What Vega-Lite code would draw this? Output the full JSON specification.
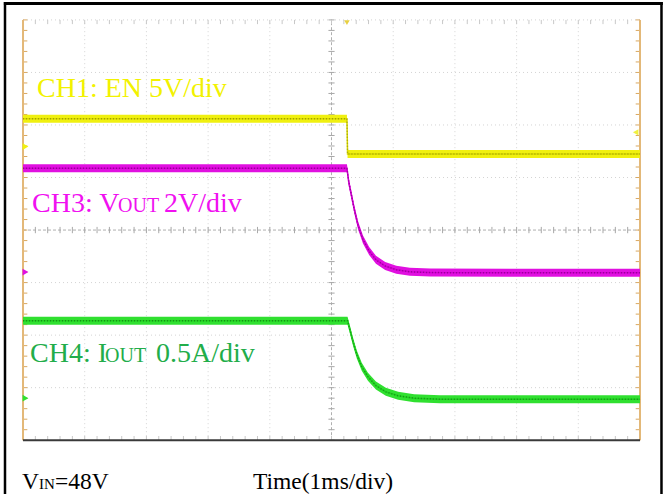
{
  "$schema": "https://vega.github.io/schema/vega-lite/v6.json",
  "width": 665,
  "height": 496,
  "autosize": {"type": "fit", "contains": "padding"},
  "padding": 0,
  "background": "white",
  "config": {"view": {"stroke": null}},
  "datasets": {
    "xt": [-5,-4.8,-4.6,-4.4,-4.2,-4,-3.8,-3.6,-3.4,-3.2,-3,-2.8,-2.6,-2.4,-2.2,-2,-1.8,-1.6,-1.4,-1.2,-1,-0.8,-0.6,-0.4,-0.2,0,0.2,0.4,0.6,0.8,1,1.2,1.4,1.6,1.8,2,2.2,2.4,2.6,2.8,3,3.2,3.4,3.6,3.8,4,4.2,4.4,4.6,4.8,5],
    "yt": [-4,-3.8,-3.6,-3.4,-3.2,-3,-2.8,-2.6,-2.4,-2.2,-2,-1.8,-1.6,-1.4,-1.2,-1,-0.8,-0.6,-0.4,-0.2,0,0.2,0.4,0.6,0.8,1,1.2,1.4,1.6,1.8,2,2.2,2.4,2.6,2.8,3,3.2,3.4,3.6,3.8,4],
    "tr": [
      {"ch":"CH1","t":-5,"v":2.12},{"ch":"CH1","t":0.25,"v":2.12},{"ch":"CH1","t":0.26,"v":1.45},{"ch":"CH1","t":5,"v":1.45},
      {"ch":"CH3","t":-5,"v":1.175},{"ch":"CH3","t":0.25,"v":1.175},{"ch":"CH3","t":0.28,"v":0.91},{"ch":"CH3","t":0.32,"v":0.68},{"ch":"CH3","t":0.37,"v":0.39},{"ch":"CH3","t":0.43,"v":0.09},{"ch":"CH3","t":0.51,"v":-0.18},{"ch":"CH3","t":0.61,"v":-0.4},{"ch":"CH3","t":0.72,"v":-0.565},{"ch":"CH3","t":0.87,"v":-0.685},{"ch":"CH3","t":1.05,"v":-0.755},{"ch":"CH3","t":1.27,"v":-0.795},{"ch":"CH3","t":1.6,"v":-0.81},{"ch":"CH3","t":5,"v":-0.815},
      {"ch":"CH4","t":-5,"v":-1.725},{"ch":"CH4","t":0.26,"v":-1.725},{"ch":"CH4","t":0.3,"v":-1.9},{"ch":"CH4","t":0.35,"v":-2.13},{"ch":"CH4","t":0.41,"v":-2.37},{"ch":"CH4","t":0.49,"v":-2.6},{"ch":"CH4","t":0.59,"v":-2.79},{"ch":"CH4","t":0.72,"v":-2.96},{"ch":"CH4","t":0.88,"v":-3.08},{"ch":"CH4","t":1.08,"v":-3.155},{"ch":"CH4","t":1.34,"v":-3.2},{"ch":"CH4","t":1.76,"v":-3.22},{"ch":"CH4","t":5,"v":-3.22}
    ],
    "gnd": [
      {"ch":"CH1","level":1.59},{"ch":"CH3","level":-0.8},{"ch":"CH4","level":-3.2}
    ]
  },
  "data": {"values": [{}]},
  "layer": [
    {
      "data": {"values": [-4,-3,-2,-1,1,2,3,4]},
      "mark": {"type": "rule", "color": "#d4d4d4", "strokeWidth": 1, "strokeDash": [1,3]},
      "encoding": {
        "x": {"field": "data", "type": "quantitative", "scale": {"domain": [-5.373,5.405], "nice": false, "zero": false}, "axis": null},
        "y": {"datum": -4, "type": "quantitative", "scale": {"domain": [-5.024,4.379], "nice": false, "zero": false}, "axis": null},
        "y2": {"datum": 4}
      }
    },
    {
      "data": {"values": [-3,-2,-1,1,2,3,4]},
      "mark": {"type": "rule", "color": "#d4d4d4", "strokeWidth": 1, "strokeDash": [1,3]},
      "encoding": {
        "y": {"field": "data", "type": "quantitative", "scale": {"domain": [-5.024,4.379], "nice": false, "zero": false}, "axis": null},
        "x": {"datum": -5, "type": "quantitative", "scale": {"domain": [-5.373,5.405], "nice": false, "zero": false}, "axis": null},
        "x2": {"datum": 5}
      }
    },
    {
      "mark": {"type": "rule", "color": "#b0b0b0", "strokeWidth": 1, "strokeDash": [3,2]},
      "encoding": {
        "x": {"datum": 0, "type": "quantitative", "scale": {"domain": [-5.373,5.405], "nice": false, "zero": false}, "axis": null},
        "y": {"datum": -4, "type": "quantitative", "scale": {"domain": [-5.024,4.379], "nice": false, "zero": false}, "axis": null},
        "y2": {"datum": 4}
      }
    },
    {
      "mark": {"type": "rule", "color": "#b0b0b0", "strokeWidth": 1, "strokeDash": [3,2]},
      "encoding": {
        "y": {"datum": 0, "type": "quantitative", "scale": {"domain": [-5.024,4.379], "nice": false, "zero": false}, "axis": null},
        "x": {"datum": -5, "type": "quantitative", "scale": {"domain": [-5.373,5.405], "nice": false, "zero": false}, "axis": null},
        "x2": {"datum": 5}
      }
    },
    {
      "data": {"name": "xt"},
      "mark": {"type": "rule", "color": "#a8a8a8", "strokeWidth": 1},
      "encoding": {
        "x": {"field": "data", "type": "quantitative", "scale": {"domain": [-5.373,5.405], "nice": false, "zero": false}, "axis": null},
        "y": {"datum": -0.06, "type": "quantitative", "scale": {"domain": [-5.024,4.379], "nice": false, "zero": false}, "axis": null},
        "y2": {"datum": 0.06}
      }
    },
    {
      "data": {"name": "yt"},
      "mark": {"type": "rule", "color": "#a8a8a8", "strokeWidth": 1},
      "encoding": {
        "y": {"field": "data", "type": "quantitative", "scale": {"domain": [-5.024,4.379], "nice": false, "zero": false}, "axis": null},
        "x": {"datum": -0.05, "type": "quantitative", "scale": {"domain": [-5.373,5.405], "nice": false, "zero": false}, "axis": null},
        "x2": {"datum": 0.05}
      }
    },
    {
      "data": {"name": "xt"},
      "mark": {"type": "rule", "color": "#c8c8c8", "strokeWidth": 1},
      "encoding": {
        "x": {"field": "data", "type": "quantitative", "scale": {"domain": [-5.373,5.405], "nice": false, "zero": false}, "axis": null},
        "y": {"datum": 3.92, "type": "quantitative", "scale": {"domain": [-5.024,4.379], "nice": false, "zero": false}, "axis": null},
        "y2": {"datum": 4}
      }
    },
    {
      "data": {"name": "xt"},
      "mark": {"type": "rule", "color": "#c8c8c8", "strokeWidth": 1},
      "encoding": {
        "x": {"field": "data", "type": "quantitative", "scale": {"domain": [-5.373,5.405], "nice": false, "zero": false}, "axis": null},
        "y": {"datum": -4, "type": "quantitative", "scale": {"domain": [-5.024,4.379], "nice": false, "zero": false}, "axis": null},
        "y2": {"datum": -3.92}
      }
    },
    {
      "data": {"name": "yt"},
      "mark": {"type": "rule", "color": "#d9a860", "strokeWidth": 1},
      "encoding": {
        "y": {"field": "data", "type": "quantitative", "scale": {"domain": [-5.024,4.379], "nice": false, "zero": false}, "axis": null},
        "x": {"datum": -5, "type": "quantitative", "scale": {"domain": [-5.373,5.405], "nice": false, "zero": false}, "axis": null},
        "x2": {"datum": -4.93}
      }
    },
    {
      "data": {"name": "yt"},
      "mark": {"type": "rule", "color": "#d9a860", "strokeWidth": 1},
      "encoding": {
        "y": {"field": "data", "type": "quantitative", "scale": {"domain": [-5.024,4.379], "nice": false, "zero": false}, "axis": null},
        "x": {"datum": 4.93, "type": "quantitative", "scale": {"domain": [-5.373,5.405], "nice": false, "zero": false}, "axis": null},
        "x2": {"datum": 5}
      }
    },
    {
      "mark": {"type": "rule", "color": "#e3b878", "strokeWidth": 2},
      "encoding": {
        "x": {"datum": -5, "type": "quantitative", "scale": {"domain": [-5.373,5.405], "nice": false, "zero": false}, "axis": null},
        "y": {"datum": -4, "type": "quantitative", "scale": {"domain": [-5.024,4.379], "nice": false, "zero": false}, "axis": null},
        "y2": {"datum": 4}
      }
    },
    {
      "mark": {"type": "rule", "color": "#e3b878", "strokeWidth": 2},
      "encoding": {
        "x": {"datum": 5, "type": "quantitative", "scale": {"domain": [-5.373,5.405], "nice": false, "zero": false}, "axis": null},
        "y": {"datum": -4, "type": "quantitative", "scale": {"domain": [-5.024,4.379], "nice": false, "zero": false}, "axis": null},
        "y2": {"datum": 4}
      }
    },
    {
      "mark": {"type": "rule", "color": "#3a3a3a", "strokeWidth": 2},
      "encoding": {
        "y": {"datum": -4, "type": "quantitative", "scale": {"domain": [-5.024,4.379], "nice": false, "zero": false}, "axis": null},
        "x": {"datum": -5, "type": "quantitative", "scale": {"domain": [-5.373,5.405], "nice": false, "zero": false}, "axis": null},
        "x2": {"datum": 5}
      }
    },
    {
      "data": {"name": "tr"},
      "mark": {"type": "area", "yOffset": -4, "y2Offset": 4, "opacity": 1},
      "encoding": {
        "x": {"field": "t", "type": "quantitative", "scale": {"domain": [-5.373,5.405], "nice": false, "zero": false}, "axis": null},
        "y": {"field": "v", "type": "quantitative", "scale": {"domain": [-5.024,4.379], "nice": false, "zero": false}, "axis": null},
        "y2": {"field": "v"},
        "fill": {"field": "ch", "type": "nominal", "scale": {"domain": ["CH1","CH3","CH4"], "range": ["#f0f010","#e010e0","#30e030"]}, "legend": null}
      }
    },
    {
      "data": {"name": "tr"},
      "mark": {"type": "line", "strokeWidth": 1.5},
      "encoding": {
        "x": {"field": "t", "type": "quantitative", "scale": {"domain": [-5.373,5.405], "nice": false, "zero": false}, "axis": null},
        "y": {"field": "v", "type": "quantitative", "scale": {"domain": [-5.024,4.379], "nice": false, "zero": false}, "axis": null},
        "color": {"field": "ch", "type": "nominal", "scale": {"domain": ["CH1","CH3","CH4"], "range": ["#d8d800","#d000d0","#20d020"]}, "legend": null}
      }
    },
    {
      "data": {"name": "tr"},
      "mark": {"type": "line", "strokeWidth": 1.5, "strokeDash": [1,2], "opacity": 0.5},
      "encoding": {
        "x": {"field": "t", "type": "quantitative", "scale": {"domain": [-5.373,5.405], "nice": false, "zero": false}, "axis": null},
        "y": {"field": "v", "type": "quantitative", "scale": {"domain": [-5.024,4.379], "nice": false, "zero": false}, "axis": null},
        "stroke": {"field": "ch", "type": "nominal", "scale": {"domain": ["CH1","CH3","CH4"], "range": ["#6e6e00","#600060","#0b5a0b"]}, "legend": null}
      }
    },
    {
      "data": {"name": "gnd"},
      "mark": {"type": "point", "shape": "triangle-right", "filled": true, "size": 45, "opacity": 1},
      "encoding": {
        "x": {"datum": -4.96, "type": "quantitative", "scale": {"domain": [-5.373,5.405], "nice": false, "zero": false}, "axis": null},
        "y": {"field": "level", "type": "quantitative", "scale": {"domain": [-5.024,4.379], "nice": false, "zero": false}, "axis": null},
        "fill": {"field": "ch", "type": "nominal", "scale": {"domain": ["CH1","CH3","CH4"], "range": ["#f0f010","#e010e0","#30e030"]}, "legend": null}
      }
    },
    {
      "mark": {"type": "point", "shape": "triangle-left", "filled": true, "size": 40, "color": "#f0f040", "opacity": 1},
      "encoding": {
        "x": {"datum": 4.93, "type": "quantitative", "scale": {"domain": [-5.373,5.405], "nice": false, "zero": false}, "axis": null},
        "y": {"datum": 1.86, "type": "quantitative", "scale": {"domain": [-5.024,4.379], "nice": false, "zero": false}, "axis": null}
      }
    },
    {
      "mark": {"type": "point", "shape": "triangle-down", "filled": true, "size": 30, "color": "#e8d040", "opacity": 1},
      "encoding": {
        "x": {"datum": 0.25, "type": "quantitative", "scale": {"domain": [-5.373,5.405], "nice": false, "zero": false}, "axis": null},
        "y": {"datum": 3.95, "type": "quantitative", "scale": {"domain": [-5.024,4.379], "nice": false, "zero": false}, "axis": null}
      }
    },
    {
      "mark": {"type": "text", "text": "CH1: EN 5V/div", "font": "Liberation Serif", "fontSize": 28, "align": "left", "baseline": "alphabetic", "color": "#f2f200"},
      "encoding": {
        "x": {"datum": -4.773, "type": "quantitative", "scale": {"domain": [-5.373,5.405], "nice": false, "zero": false}, "axis": null},
        "y": {"datum": 2.54, "type": "quantitative", "scale": {"domain": [-5.024,4.379], "nice": false, "zero": false}, "axis": null}
      }
    },
    {
      "mark": {"type": "text", "text": "CH3: V", "font": "Liberation Serif", "fontSize": 28, "align": "left", "baseline": "alphabetic", "color": "#f010f0"},
      "encoding": {
        "x": {"datum": -4.854, "type": "quantitative", "scale": {"domain": [-5.373,5.405], "nice": false, "zero": false}, "axis": null},
        "y": {"datum": 0.341, "type": "quantitative", "scale": {"domain": [-5.024,4.379], "nice": false, "zero": false}, "axis": null}
      }
    },
    {
      "mark": {"type": "text", "text": "OUT", "font": "Liberation Serif", "fontSize": 20, "align": "left", "baseline": "alphabetic", "color": "#f010f0"},
      "encoding": {
        "x": {"datum": -3.46, "type": "quantitative", "scale": {"domain": [-5.373,5.405], "nice": false, "zero": false}, "axis": null},
        "y": {"datum": 0.341, "type": "quantitative", "scale": {"domain": [-5.024,4.379], "nice": false, "zero": false}, "axis": null}
      }
    },
    {
      "mark": {"type": "text", "text": "2V/div", "font": "Liberation Serif", "fontSize": 28, "align": "left", "baseline": "alphabetic", "color": "#f010f0"},
      "encoding": {
        "x": {"datum": -2.715, "type": "quantitative", "scale": {"domain": [-5.373,5.405], "nice": false, "zero": false}, "axis": null},
        "y": {"datum": 0.341, "type": "quantitative", "scale": {"domain": [-5.024,4.379], "nice": false, "zero": false}, "axis": null}
      }
    },
    {
      "mark": {"type": "text", "text": "CH4: I", "font": "Liberation Serif", "fontSize": 28, "align": "left", "baseline": "alphabetic", "color": "#22ad4a"},
      "encoding": {
        "x": {"datum": -4.887, "type": "quantitative", "scale": {"domain": [-5.373,5.405], "nice": false, "zero": false}, "axis": null},
        "y": {"datum": -2.502, "type": "quantitative", "scale": {"domain": [-5.024,4.379], "nice": false, "zero": false}, "axis": null}
      }
    },
    {
      "mark": {"type": "text", "text": "OUT", "font": "Liberation Serif", "fontSize": 20, "align": "left", "baseline": "alphabetic", "color": "#22ad4a"},
      "encoding": {
        "x": {"datum": -3.671, "type": "quantitative", "scale": {"domain": [-5.373,5.405], "nice": false, "zero": false}, "axis": null},
        "y": {"datum": -2.502, "type": "quantitative", "scale": {"domain": [-5.024,4.379], "nice": false, "zero": false}, "axis": null}
      }
    },
    {
      "mark": {"type": "text", "text": "0.5A/div", "font": "Liberation Serif", "fontSize": 28, "align": "left", "baseline": "alphabetic", "color": "#22ad4a"},
      "encoding": {
        "x": {"datum": -2.844, "type": "quantitative", "scale": {"domain": [-5.373,5.405], "nice": false, "zero": false}, "axis": null},
        "y": {"datum": -2.502, "type": "quantitative", "scale": {"domain": [-5.024,4.379], "nice": false, "zero": false}, "axis": null}
      }
    },
    {
      "mark": {"type": "text", "text": "V", "font": "Liberation Serif", "fontSize": 23.5, "align": "left", "baseline": "alphabetic", "color": "#000000"},
      "encoding": {
        "x": {"datum": -5.016, "type": "quantitative", "scale": {"domain": [-5.373,5.405], "nice": false, "zero": false}, "axis": null},
        "y": {"datum": -4.93, "type": "quantitative", "scale": {"domain": [-5.024,4.379], "nice": false, "zero": false}, "axis": null}
      }
    },
    {
      "mark": {"type": "text", "text": "IN", "font": "Liberation Serif", "fontSize": 15, "align": "left", "baseline": "alphabetic", "color": "#000000"},
      "encoding": {
        "x": {"datum": -4.741, "type": "quantitative", "scale": {"domain": [-5.373,5.405], "nice": false, "zero": false}, "axis": null},
        "y": {"datum": -4.93, "type": "quantitative", "scale": {"domain": [-5.024,4.379], "nice": false, "zero": false}, "axis": null}
      }
    },
    {
      "mark": {"type": "text", "text": "=48V", "font": "Liberation Serif", "fontSize": 23.5, "align": "left", "baseline": "alphabetic", "color": "#000000"},
      "encoding": {
        "x": {"datum": -4.481, "type": "quantitative", "scale": {"domain": [-5.373,5.405], "nice": false, "zero": false}, "axis": null},
        "y": {"datum": -4.93, "type": "quantitative", "scale": {"domain": [-5.024,4.379], "nice": false, "zero": false}, "axis": null}
      }
    },
    {
      "mark": {"type": "text", "text": "Time(1ms/div)", "font": "Liberation Serif", "fontSize": 23.5, "align": "left", "baseline": "alphabetic", "color": "#000000"},
      "encoding": {
        "x": {"datum": -1.272, "type": "quantitative", "scale": {"domain": [-5.373,5.405], "nice": false, "zero": false}, "axis": null},
        "y": {"datum": -4.93, "type": "quantitative", "scale": {"domain": [-5.024,4.379], "nice": false, "zero": false}, "axis": null}
      }
    },
    {
      "mark": {"type": "rule", "color": "#000000", "strokeWidth": 3},
      "encoding": {
        "y": {"datum": 4.313, "type": "quantitative", "scale": {"domain": [-5.024,4.379], "nice": false, "zero": false}, "axis": null},
        "x": {"datum": -5.31, "type": "quantitative", "scale": {"domain": [-5.373,5.405], "nice": false, "zero": false}, "axis": null},
        "x2": {"datum": 5.37}
      }
    },
    {
      "mark": {"type": "rule", "color": "#000000", "strokeWidth": 2.5},
      "encoding": {
        "x": {"datum": -5.292, "type": "quantitative", "scale": {"domain": [-5.373,5.405], "nice": false, "zero": false}, "axis": null},
        "y": {"datum": 4.34, "type": "quantitative", "scale": {"domain": [-5.024,4.379], "nice": false, "zero": false}, "axis": null},
        "y2": {"datum": -5.024}
      }
    },
    {
      "mark": {"type": "rule", "color": "#000000", "strokeWidth": 2.5},
      "encoding": {
        "x": {"datum": 5.348, "type": "quantitative", "scale": {"domain": [-5.373,5.405], "nice": false, "zero": false}, "axis": null},
        "y": {"datum": 4.34, "type": "quantitative", "scale": {"domain": [-5.024,4.379], "nice": false, "zero": false}, "axis": null},
        "y2": {"datum": -5.024}
      }
    }
  ]
}
